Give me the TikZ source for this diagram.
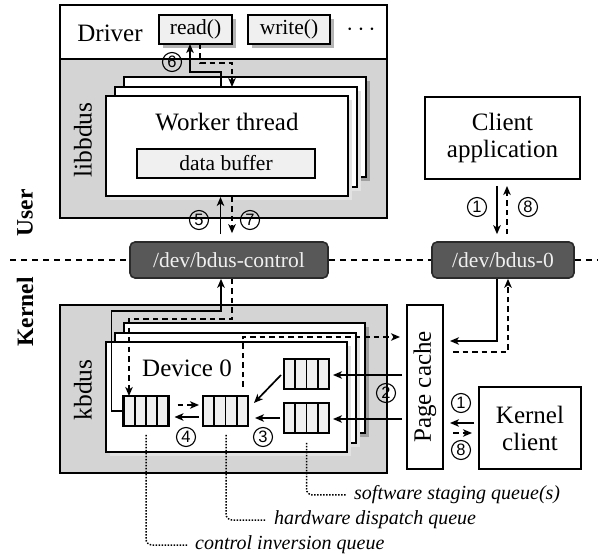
\documentclass[tikz,border=0pt]{standalone}
\usepackage{fontspec}
\setmainfont{Liberation Serif}
\setsansfont{Liberation Sans}
\usetikzlibrary{arrows.meta,calc,shadows}
\definecolor{region}{HTML}{D4D4D4}
\definecolor{cellfill}{HTML}{F0F0F0}
\definecolor{devfill}{HTML}{585858}
\definecolor{devborder}{HTML}{2A2A2A}
\definecolor{shlight}{HTML}{E2E2E2}
\definecolor{shdark}{HTML}{A0A0A0}
\definecolor{shmid}{HTML}{B4B4B4}
\begin{document}
\begin{tikzpicture}[x=1pt,y=-1pt,
  big/.style={font=\fontsize{25}{27}\selectfont},
  small/.style={font=\fontsize{21.5}{24}\selectfont},
  lbl/.style={font=\fontsize{20}{22}\selectfont\itshape, anchor=west, inner xsep=8pt, inner ysep=0pt},
  side/.style={font=\fontsize{23.5}{25}\selectfont\bfseries, rotate=90},
  box/.style={draw, line width=2.3pt, inner sep=0pt, outer sep=0pt, fill=white},
  lightbox/.style={box, fill=cellfill},
  shmidbox/.style={drop shadow={shadow xshift=4pt, shadow yshift=-4pt, fill=shmid, opacity=1}},
  shlightbox/.style={drop shadow={shadow xshift=4pt, shadow yshift=-4pt, fill=shlight, opacity=1}},
  shdarkbox/.style={drop shadow={shadow xshift=4pt, shadow yshift=-4pt, fill=shdark, opacity=1}},
  dev/.style={draw=devborder, fill=devfill, line width=1.6pt, rounded corners=5pt,
    text=white!94!black, font=\fontsize{21.5}{24}\selectfont, minimum width=#1, minimum height=36pt, inner sep=0pt},
  queue/.style={draw, line width=2.2pt, fill=cellfill, minimum width=45pt, minimum height=30pt, inner sep=0pt, outer sep=0pt,
    path picture={\foreach \i in {1,2,3}{\draw[line width=1.9pt]
      ($(path picture bounding box.south west)!\i/4!(path picture bounding box.south east)$) --
      ($(path picture bounding box.north west)!\i/4!(path picture bounding box.north east)$);}}},
  num/.style={circle, draw, line width=1.1pt, inner sep=0pt, minimum size=19pt, fill=none,
    font=\fontsize{16.5}{16.5}\sffamily},
  arr/.style={line width=1.7pt, -{Stealth[length=9pt,width=7.5pt,inset=2.5pt]}},
  dsh/.style={dash pattern=on 5.5pt off 4pt},
  leader/.style={line width=1.5pt, dash pattern=on 1.5pt off 1.5pt, rounded corners=6pt},
  divider/.style={line width=1.4pt, dash pattern=on 6pt off 5pt}
]
\useasboundingbox (0,0) rectangle (598,556);

% ---------------- user space ----------------
\fill[region] (60,59) rectangle (387,218);
\draw[line width=2.3pt] (60,5) rectangle (387,218);
\draw[line width=2pt] (60,59) -- (387,59);
\node[big] (driver) at (110,33) {Driver};
\node[lightbox, shmidbox, small, minimum width=73pt, minimum height=29pt] (read) at (195.5,29.5) {read()};
\node[lightbox, shmidbox, small, minimum width=82pt, minimum height=29pt] (write) at (289,29.5) {write()};
\node[font=\fontsize{30}{30}\selectfont] (dots) at (361,30) {$\cdots$};

\node[side, font=\fontsize{25.5}{27}\selectfont] (libbdus) at (83,140) {libbdus};

\node[box, shdarkbox, minimum width=242pt, minimum height=100pt] (wback) at (245,127) {};
\node[box, shlightbox, minimum width=242pt, minimum height=100pt] (wmid) at (236,137) {};
\node[box, shlightbox, minimum width=242pt, minimum height=100pt] (wfront) at (227,146) {};
\node[big] (worker) at (227,122) {Worker thread};
\node[lightbox, small, minimum width=178pt, minimum height=29pt] (buffer) at (226,163.5) {data buffer};

% arrows 6
\draw[arr] ([xshift=-15pt]wmid.north) -- ++(0,-15) -| ([xshift=-5.5pt]read.south);
\draw[arr, dsh] ([xshift=4.5pt]read.south) -- ++(0,19) -| ([xshift=-4pt]wmid.north);
\node[num] (c6) at (172,62) {6};

% client application
\node[box, big, align=center, minimum width=155pt, minimum height=82pt] (client) at (502.5,138) {Client\\application};

% ---------------- boundary ----------------
\node[dev=198pt] (ctrl) at (229,260) {/dev/bdus-control};
\node[dev=142pt] (bdus0) at (503,260) {/dev/bdus-0};
\coordinate (lend) at (10,260);
\coordinate (rend) at (598,260);
\draw[divider] (lend) -- (ctrl.west);
\draw[divider] (ctrl.east) -- (bdus0.west);
\draw[divider] (bdus0.east) -- (rend);
\node[side] (user) at (25,213) {User};
\node[side] (kernel) at (25,312) {Kernel};

% arrows 5 / 7
\draw[arr] ([xshift=-8.5pt,yshift=7pt]ctrl.north) -- ([xshift=-6.5pt,yshift=-1pt]wfront.south);
\draw[arr, dsh] ([xshift=5pt,yshift=-1pt]wfront.south) -- ([xshift=3pt,yshift=8pt]ctrl.north);
\node[num] (c5) at (199,220) {5};
\node[num] (c7) at (250,220) {7};

% arrows 1 / 8 (client application)
\draw[arr] ([xshift=-5.5pt,yshift=-7pt]client.south) -- ([xshift=-6pt,yshift=7pt]bdus0.north);
\draw[arr, dsh] ([xshift=4pt,yshift=7pt]bdus0.north) -- ([xshift=4.5pt,yshift=-7pt]client.south);
\node[num] (c1a) at (477,207) {1};
\node[num] (c8a) at (528,207) {8};

% ---------------- kernel space ----------------
\fill[region] (60,305) rectangle (387,473);
\draw[line width=2.3pt] (60,305) rectangle (387,473);
\node[side, font=\fontsize{25.5}{27}\selectfont] (kbdus) at (83,390) {kbdus};

\node[box, shdarkbox, minimum width=241pt, minimum height=110pt] (dback) at (244.5,378) {};
\node[box, shlightbox, minimum width=241pt, minimum height=110pt] (dmid) at (235.5,388) {};
\node[box, shlightbox, minimum width=241pt, minimum height=110pt] (dfront) at (226.5,397) {};
\node[big] (device) at (187,368) {Device 0};

\node[queue] (cinv) at (146,411) {};
\node[queue] (hw) at (225.5,411) {};
\node[queue] (sw1) at (306.5,374) {};
\node[queue] (sw2) at (306.5,418) {};

\node[box, minimum width=36pt, minimum height=164pt] (pc) at (425,387) {};
\node[big, rotate=90] (pctext) at (pc.center) {Page cache};
\node[box, big, align=center, minimum width=102pt, minimum height=82pt] (kclient) at (530,428) {Kernel\\client};

% control path
\draw[arr] (cinv.west) -- ++(-12,0) -- ++(0,-100) -| ([xshift=-8pt]ctrl.south);
\draw[arr, dsh] ([xshift=3pt]ctrl.south) -- ++(0,40) -| ([xshift=-17pt]cinv.north);
\draw[arr, dsh] ([xshift=-5pt,yshift=9pt]hw.north east) |- ([xshift=-7pt,yshift=50pt]pc.west);

% queue arrows
\draw[arr, dsh] ([xshift=9pt,yshift=6pt]cinv.east) -- ([xshift=-4pt,yshift=6pt]hw.west);
\draw[arr] ([xshift=-4pt,yshift=-6pt]hw.west) -- ([xshift=6pt,yshift=-6pt]cinv.east);
\node[num] (c4) at (186,437) {4};
\draw[arr] ([xshift=-3pt,yshift=-1pt]sw1.west) -- ([xshift=6pt,yshift=8pt]hw.east);
\draw[arr] ([xshift=-4pt]sw2.west) -- ([xshift=7pt]sw2.west -| hw.east);
\node[num] (c3) at (263,437) {3};

% page cache to staging queues
\draw[arr] ($(pc.west |- sw1.east)+(-5,1)$) -- ($(sw1.east)+(4,1)$);
\draw[arr] ($(pc.west |- sw2.east)+(-5,1)$) -- ($(sw2.east)+(4,1)$);
\node[num] (c2) at (386,393) {2};

% bdus-0 to page cache
\draw[arr] ([xshift=-6pt]bdus0.south) |- ($(pc.east)+(7,-46)$);
\draw[arr, dsh] ($(pc.east)+(10,-35)$) -| ([xshift=5pt]bdus0.south);

% kernel client
\draw[arr] ($(kclient.west)+(-5,-5)$) -- ($(pc.east)+(7,36)$);
\draw[arr, dsh] ($(pc.east)+(10,46)$) -- ($(kclient.west)+(-7,5)$);
\node[num] (c1b) at (461,403) {1};
\node[num] (c8b) at (461,450) {8};

% leader labels
\node[lbl] (l3) at (346,495) {software staging queue(s)};
\node[lbl] (l2) at (266,520) {hardware dispatch queue};
\node[lbl] (l1) at (187,545) {control inversion queue};
\draw[leader] ($(sw2.south)+(0,10)$) |- (l3.west);
\draw[leader] ($(hw.south)+(0.5,9)$) |- (l2.west);
\draw[leader] ($(cinv.south)+(0,9)$) |- (l1.west);
\end{tikzpicture}
\end{document}
